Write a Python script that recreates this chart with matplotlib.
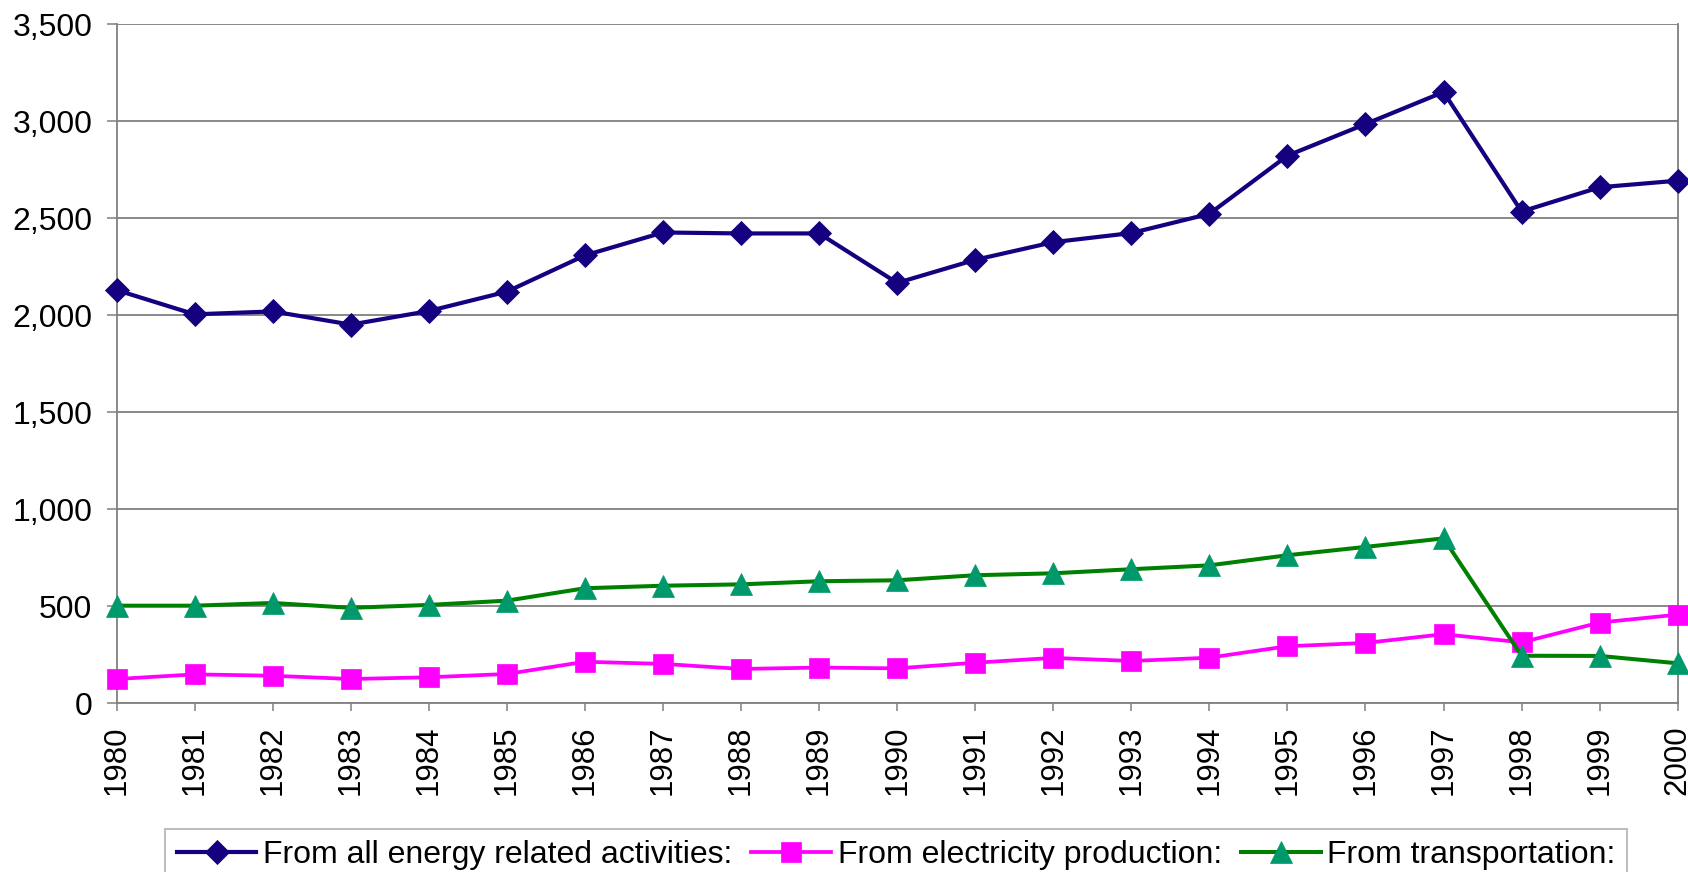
import matplotlib
matplotlib.use("Agg")
import matplotlib.pyplot as plt
from matplotlib.ticker import FuncFormatter

plt.rcParams["font.family"] = ["Liberation Sans", "DejaVu Sans"]

years = list(range(1980, 2001))
all_energy = [2130, 2005, 2020, 1952, 2022, 2122, 2309, 2427, 2422, 2422, 2167,
              2286, 2377, 2424, 2523, 2823, 2986, 3151, 2535, 2660, 2694]
electricity = [125, 149, 142, 125, 134, 151, 214, 203, 177, 184, 180,
               209, 234, 218, 235, 294, 311, 356, 314, 416, 457]
transportation = [503, 503, 517, 492, 507, 529, 593, 606, 613, 629, 634,
                  660, 670, 691, 711, 763, 806, 850, 245, 244, 206]
series_labels = ["From all energy related activities:",
                 "From electricity production:",
                 "From transportation:"]

fig = plt.figure(figsize=(16.88, 8.72), dpi=100)
ax = fig.add_axes([0.0691, 0.1935, 0.9248, 0.7786])

ax.plot(years, all_energy, color="#150080", lw=3.0, marker="D", ms=11.8,
        mfc="#150080", mec="#150080", mew=0.6, clip_on=False, zorder=5,
        label=series_labels[0])
ax.plot(years, electricity, color="#FF00FF", lw=2.7, marker="s", ms=14.5,
        mfc="#FF00FF", mec="#FF00FF", mew=0.5, clip_on=False, zorder=5,
        label=series_labels[1])
ax.plot(years, transportation, color="#008000", lw=2.9, marker="^", ms=16,
        mfc="#00996B", mec="#00996B", mew=0.5, clip_on=False, zorder=5,
        label=series_labels[2])

ax.set_xlim(1980, 2000)
ax.set_ylim(0, 3500)
ax.set_xticks(years)
ax.set_xticklabels([str(y) for y in years], rotation=90, fontsize=22.5)
ax.set_yticks(range(0, 3501, 500))
ax.yaxis.set_major_formatter(FuncFormatter(lambda v, p: f"{int(v):,}"))
ax.tick_params(axis="y", labelsize=23, length=7, width=1.1, color="#808080", pad=10.5)
ax.tick_params(axis="x", length=6, width=1.1, color="#808080", pad=10)

ax.grid(axis="y", color="#808080", lw=1.3)
ax.set_axisbelow(True)
for side in ["left", "bottom", "right"]:
    ax.spines[side].set_color("#808080")
    ax.spines[side].set_linewidth(1.3)
ax.spines["top"].set_visible(False)

leg = fig.legend(loc="upper center", bbox_to_anchor=(0.5308, 0.0493), ncol=3,
                 fontsize=23, frameon=True, fancybox=False, edgecolor="#a6a6a6",
                 handlelength=2.5, handletextpad=0.2, columnspacing=0.6,
                 borderpad=0.35, borderaxespad=0)
leg.get_frame().set_linewidth(1.3)

fig.savefig("out.png", dpi=100)
